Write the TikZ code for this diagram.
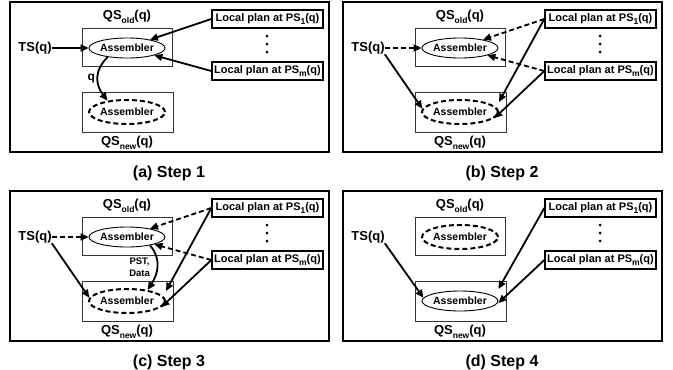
\documentclass[tikz,border=0pt]{standalone}
\usepackage{fontspec}
\setmainfont{Liberation Sans}
\usetikzlibrary{arrows.meta,shapes.geometric}

\newcommand{\lowsub}[1]{\raisebox{-0.28em}{\fontsize{8.5}{9}\selectfont #1}}

\tikzset{
  panelframe/.style={draw=black, line width=1.4pt},
  qsbox/.style={draw=black!80, line width=0.9pt, minimum width=90pt, minimum height=38pt, inner sep=0pt},
  qslabel/.style={font=\fontsize{13}{15}\selectfont\bfseries, inner sep=0pt},
  lpbox/.style={draw, line width=1.4pt, minimum width=111pt, minimum height=18pt, inner sep=0pt, font=\fontsize{11}{13}\selectfont\bfseries},
  asm/.style={ellipse, inner sep=0pt, font=\fontsize{10.5}{12}\selectfont\bfseries},
  asmon/.style={asm, draw, line width=0.9pt, minimum width=65pt, minimum height=20pt},
  asmoff/.style={asm, draw, line width=2pt, dash pattern=on 5pt off 3pt, minimum width=68pt, minimum height=24pt},
  arr/.style={-{Triangle[length=8pt,width=7pt]}, line width=1.8pt},
  darr/.style={arr, dash pattern=on 5pt off 3pt},
  steplabel/.style={font=\fontsize{16}{18}\selectfont\bfseries}
}

\begin{document}
\begin{tikzpicture}[x=1pt,y=-1pt]
\useasboundingbox (0,0) rectangle (673,370);

%% the four panels share boxes and labels
\foreach \p/\dx/\dy/\os/\ns/\cap in {a/0/0/asmon/asmoff/{(a) Step 1}, b/333/0/asmon/asmoff/{(b) Step 2}, c/0/189/asmon/asmoff/{(c) Step 3}, d/333/189/asmoff/asmon/{(d) Step 4}} {
\begin{scope}[shift={(\dx,\dy)}]
\draw [panelframe] (10,2) rectangle (329,152);
\node [qsbox] (old-\p) at (127,47) {};
\node [qsbox, minimum width=91pt, minimum height=40pt] (new-\p) at (127.5,112) {};
\node [qslabel] (oldlbl-\p) at (127,17) {QS\lowsub{old}(q)};
\node [qslabel] (newlbl-\p) at (127,143) {QS\lowsub{new}(q)};
\node [\os] (eold-\p) at (127,48) {Assembler};
\node [\ns] (enew-\p) at (127,112) {Assembler};
\node [qslabel] (ts-\p) at (35,48) {TS(q)};
\node [lpbox] (lp1-\p) at (267.5,19) {Local plan at PS\lowsub{1}(q)};
\node [lpbox] (lpm-\p) at (267.5,71) {Local plan at PS\lowsub{m}(q)};
\foreach \y in {36,44,52} \fill (267,\y) circle (1.5pt);
\node [steplabel] (cap-\p) at (169,173) {\cap};
\end{scope}
}

%% Step 1
\draw [arr] (ts-a.east) -- (eold-a.west);
\draw [arr] (lp1-a.west) -- (eold-a.20);
\draw [arr] (lpm-a.west) -- (eold-a.-15);
\draw [arr] (eold-a.205) .. controls +(-14,14) and +(-12,-16) .. node [left=2pt, qslabel, font=\fontsize{12}{14}\selectfont\bfseries] (q-a) {q} (enew-a.150);

%% Step 2
\draw [darr] (ts-b.east) -- (eold-b.west);
\draw [darr] (lp1-b.west) -- (eold-b.20);
\draw [darr] (lpm-b.west) -- (eold-b.-15);
\draw [arr] (ts-b.south east) -- (enew-b.175);
\draw [arr] (lp1-b.west) -- ([yshift=10pt]enew-b.east);
\draw [arr] (lpm-b.west) -- (enew-b.-10);

%% Step 3
\draw [darr] (ts-c.east) -- (eold-c.west);
\draw [darr] (lp1-c.west) -- (eold-c.20);
\draw [darr] (lpm-c.west) -- (eold-c.-15);
\draw [arr] (ts-c.south east) -- (enew-c.175);
\draw [arr] (lp1-c.west) -- ([yshift=10pt]enew-c.east);
\draw [arr] (lpm-c.west) -- (enew-c.-10);
\draw [arr] (eold-c.-20) .. controls +(12,14) and +(10,-16) .. node [left=3pt, align=center, font=\fontsize{9.5}{12}\selectfont\bfseries] (pst-c) {PST,\\Data} (enew-c.28);

%% Step 4
\draw [arr] (ts-d.south east) -- (enew-d.175);
\draw [arr] (lp1-d.west) -- ([yshift=12pt]enew-d.east);
\draw [arr] (lpm-d.west) -- ([yshift=-2pt]enew-d.east);

\end{tikzpicture}
\end{document}
